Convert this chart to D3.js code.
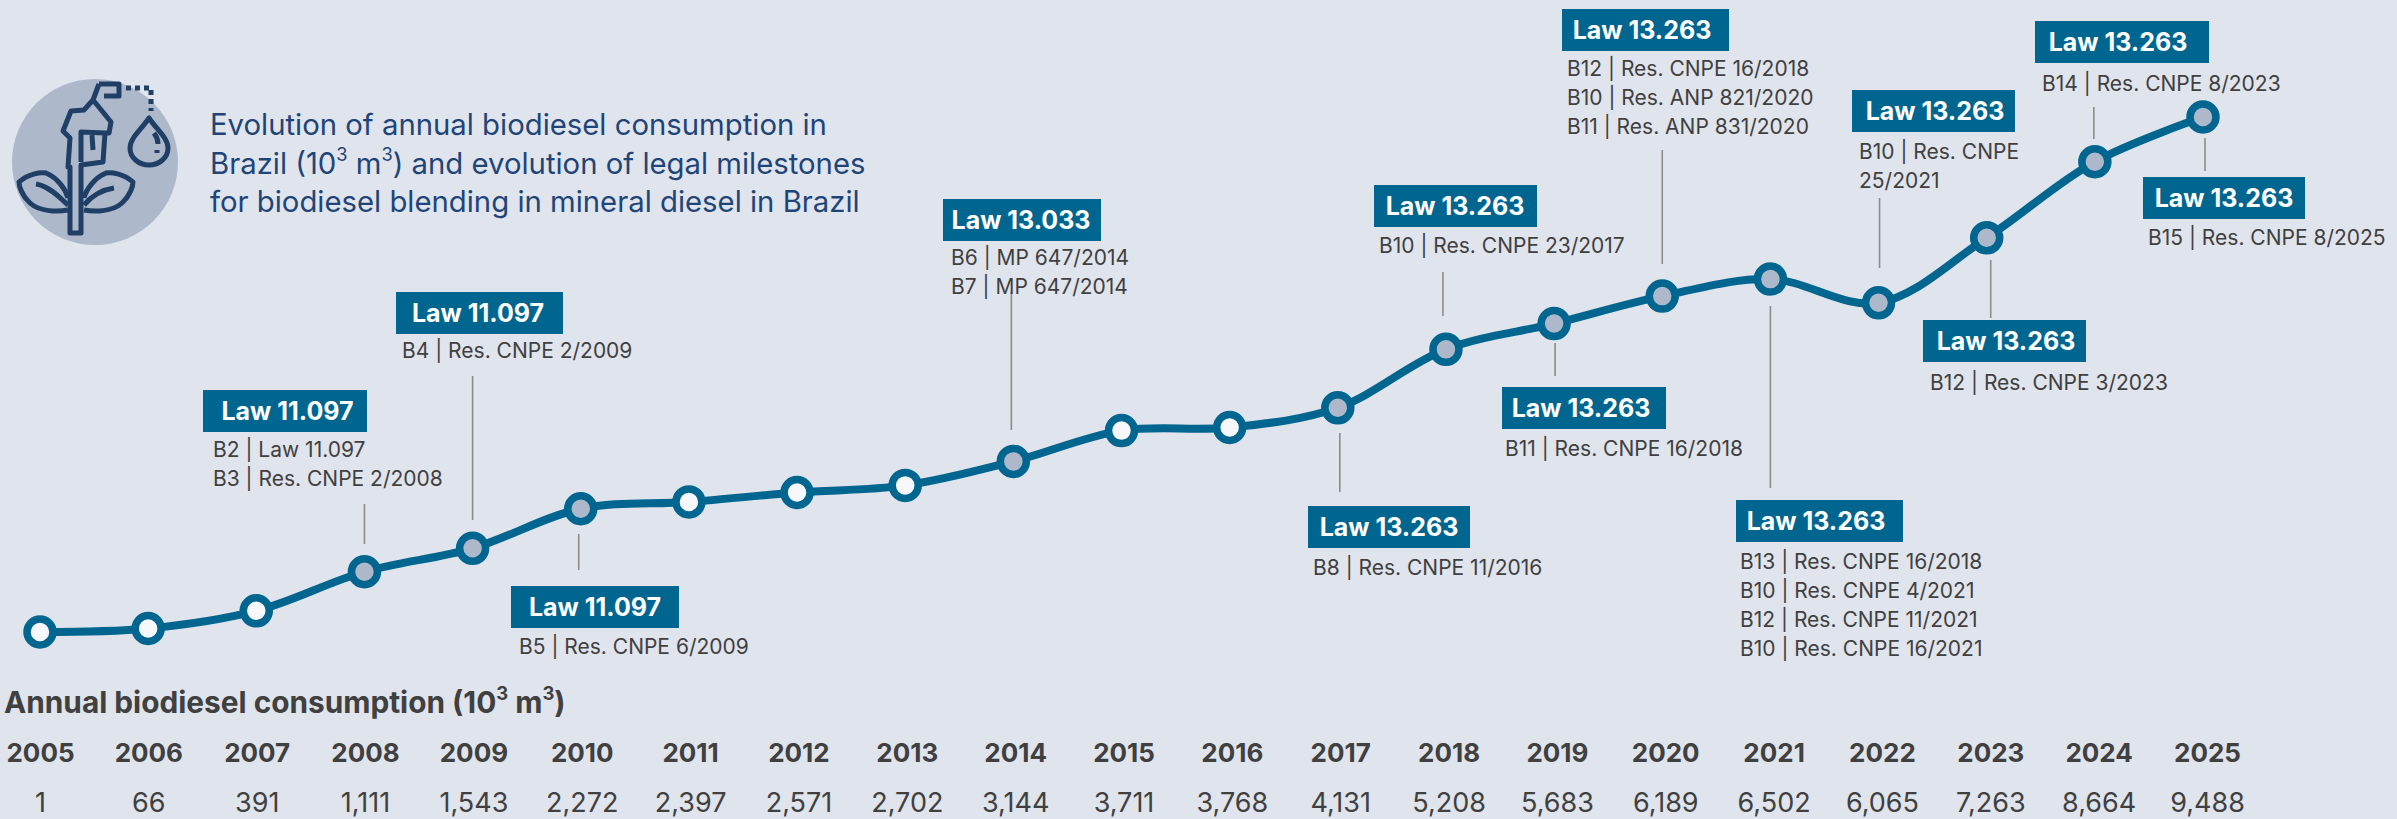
<!DOCTYPE html>
<html><head><meta charset="utf-8">
<script src="https://cdn.jsdelivr.net/npm/d3@7/dist/d3.min.js"></script>
<style>
html,body{margin:0;padding:0;background:#e0e4ec;overflow:hidden}
svg{display:block}
text{font-family:Inter,Roboto,sans-serif}
</style></head><body><div id="c"></div>
<script>
// ---- data ----
const years=[2005,2006,2007,2008,2009,2010,2011,2012,2013,2014,2015,2016,2017,2018,2019,2020,2021,2022,2023,2024,2025];
const consumption=[1,66,391,1111,1543,2272,2397,2571,2702,3144,3711,3768,4131,5208,5683,6189,6502,6065,7263,8664,9488];
const milestoneYears=[2008,2009,2010,2014,2017,2018,2019,2020,2021,2022,2023,2024,2025];
const milestoneLaws=["Law 11.097","Law 11.097","Law 11.097","Law 13.033","Law 13.263","Law 13.263","Law 13.263","Law 13.263","Law 13.263","Law 13.263","Law 13.263","Law 13.263","Law 13.263"];
const milestoneNotes=[
 ["B2 | Law 11.097","B3 | Res. CNPE 2/2008"],
 ["B4 | Res. CNPE 2/2009"],
 ["B5 | Res. CNPE 6/2009"],
 ["B6 | MP 647/2014","B7 | MP 647/2014"],
 ["B8 | Res. CNPE 11/2016"],
 ["B10 | Res. CNPE 23/2017"],
 ["B11 | Res. CNPE 16/2018"],
 ["B12 | Res. CNPE 16/2018","B10 | Res. ANP 821/2020","B11 | Res. ANP 831/2020"],
 ["B13 | Res. CNPE 16/2018","B10 | Res. CNPE 4/2021","B12 | Res. CNPE 11/2021","B10 | Res. CNPE 16/2021"],
 ["B10 | Res. CNPE","25/2021"],
 ["B12 | Res. CNPE 3/2023"],
 ["B14 | Res. CNPE 8/2023"],
 ["B15 | Res. CNPE 8/2025"]
];
const titleLines=["Evolution of annual biodiesel consumption in",["Brazil (10","3"," m","3",") and evolution of legal milestones"],"for biodiesel blending in mineral diesel in Brazil"];
const tableHeader=["Annual biodiesel consumption (10","3"," m","3",")"];
const whitePointYears=[2005,2006,2007,2011,2012,2013,2015,2016];

// ---- layout (annotation placement, separate from the data) ----
const W=2397,H=819;
const place={ // box x0,x1,y0 ; label centre offset ; text x, first line y ; leader dx,y1,y2
 2008:{b:[203,367,390],c:2.5,t:213,ty:449,lx:0,l:[504,544]},
 2009:{b:[396,563,292],c:-1.5,t:402,ty:350,lx:0,l:[376,520]},
 2010:{b:[511,679,586],c:0,t:519,ty:646,lx:-2,l:[534,570]},
 2014:{b:[943,1101,199],c:-1,t:951,ty:257,lx:-2,l:[292,430]},
 2017:{b:[1308,1470,506],c:0,t:1313,ty:567,lx:2,l:[433,492]},
 2018:{b:[1374,1537,185],c:-0.5,t:1379,ty:245,lx:-3,l:[272,316]},
 2019:{b:[1502,1666,387],c:-3,t:1505,ty:448,lx:1,l:[343,376]},
 2020:{b:[1562,1729,9],c:-3.5,t:1567,ty:68,lx:0,l:[150,264]},
 2021:{b:[1736,1903,500],c:-3.5,t:1740,ty:561,lx:0,l:[306,488]},
 2022:{b:[1852,2015,90],c:1.5,t:1859,ty:151,lx:1,l:[198,268]},
 2023:{b:[1923,2086,320],c:1.5,t:1930,ty:382,lx:4,l:[260,318]},
 2024:{b:[2035,2209,21],c:-4,t:2042,ty:83,lx:-1,l:[107,139]},
 2025:{b:[2143,2305,177],c:0,t:2148,ty:237,lx:2,l:[138,171]}
};
const BG="#e0e4ec",TEAL="#006690",GREY="#adb9ca",TXT="#404040",NAVY="#1f4578",LEAD="#8c8c8c";

const svg=d3.select("#c").append("svg").attr("width",W).attr("height",H);
svg.append("rect").attr("width",W).attr("height",H).attr("fill",BG);

const x=d3.scaleLinear().domain([2005,2025]).range([40,2203]);
const y=d3.scaleLinear().domain([1,9488]).range([632,117]);
const xTable=d3.scaleLinear().domain([2005,2025]).range([40.5,2207.5]);
const series=years.map((yr,i)=>({yr,v:consumption[i]}));

// icon
const ic=svg.append("g").attr("fill","none").attr("stroke","#1f3f66").attr("stroke-width",5).attr("stroke-linejoin","round");
svg.insert("ellipse","g").attr("cx",95).attr("cy",162).attr("rx",83).attr("ry",83).attr("fill",GREY);
ic.append("path").attr("d","M99,84 L119,84 L119,96 L104,96 M99,84 L93,100 L84,110 L71,111 L63,131 L70,138 L68,167 L70,167 L70,233 L81,233 L81,165 L103,162 L105,133 L81,132 L81,162 M93,100 L98,106 L111,122 L109,133 L105,133");
ic.append("path").attr("d","M92,135 L93,150");
ic.append("path").attr("d","M68,205 C62,200 50,186 36,184 M68,210 C58,212 40,212 30,203 C22,196 19,186 19,182 C28,174 40,172 46,173 C58,178 66,190 68,198");
ic.append("path").attr("d","M84,205 C90,198 100,190 114,188 M84,210 C94,212 112,212 122,203 C130,196 133,186 133,182 C124,174 112,172 106,173 C94,178 86,190 84,198");
ic.append("path").attr("d","M149,118 C141,130 130,138 130,148 C130,158 139,165 149,165 C159,165 168,158 168,148 C168,138 157,130 149,118 Z");
ic.append("path").attr("d","M154,133 C157,137 158,140 158,144 M157,150 L157,153");
ic.append("path").attr("d","M126,88 L151,88 L151,111").attr("stroke-dasharray","5 4").attr("stroke-width",5);

// title
const sup=(t,parts,size)=>{parts.forEach((p,i)=>{
  const s=i%2===1;
  t.append("tspan").attr("font-size",s?size*0.62:size).attr("dy",s?-size*0.42:(i>0?size*0.42:null)).text(p);
});};
const tt=svg.append("g").attr("fill",NAVY);
const titleY=[124,163,201];
titleLines.forEach((l,i)=>{
  const t=tt.append("text").attr("x",210).attr("y",titleY[i]+10.5);
  t.attr("font-size",29.3);
  if(Array.isArray(l)) sup(t,l,29.3); else t.text(l);
});

// leaders
milestoneYears.forEach(yr=>{
  const p=place[yr];
  svg.append("line").attr("x1",x(yr)+p.lx).attr("x2",x(yr)+p.lx).attr("y1",p.l[0]).attr("y2",p.l[1]).attr("stroke",LEAD).attr("stroke-width",1.6);
});

// line
const line=d3.line().x(d=>x(d.yr)).y(d=>y(d.v)).curve(d3.curveCatmullRom.alpha(0.5));
svg.append("path").datum(series).attr("d",line).attr("fill","none").attr("stroke",TEAL).attr("stroke-width",8);
svg.selectAll("circle.pt").data(series).join("circle").attr("class","pt")
  .attr("cx",d=>x(d.yr)).attr("cy",d=>y(d.v)).attr("r",13).attr("stroke",TEAL).attr("stroke-width",7.5)
  .attr("fill",d=>whitePointYears.includes(d.yr)?"#f6f8fb":GREY);

// annotations
milestoneYears.forEach((yr,i)=>{
  const p=place[yr];
  svg.append("rect").attr("x",p.b[0]).attr("y",p.b[2]).attr("width",p.b[1]-p.b[0]).attr("height",42).attr("fill",TEAL);
  svg.append("text").attr("x",(p.b[0]+p.b[1])/2+p.c).attr("y",p.b[2]+21).attr("dy","0.36em").attr("text-anchor","middle")
    .attr("fill","#fff").attr("font-size",25).attr("font-weight",700).text(milestoneLaws[i]);
  milestoneNotes[i].forEach((n,j)=>{
    svg.append("text").attr("x",p.t).attr("y",p.ty+j*29.3).attr("dy","0.36em").attr("fill",TXT).attr("font-size",21).text(n);
  });
});

// table
const hd=svg.append("text").attr("x",4).attr("y",712.7).attr("fill",TXT).attr("font-weight",700).attr("font-size",29.8);
sup(hd,tableHeader,29.8);
svg.selectAll("text.yr").data(series).join("text").attr("class","yr").attr("x",d=>xTable(d.yr)).attr("y",753).attr("dy","0.36em")
  .attr("text-anchor","middle").attr("font-size",26).attr("font-weight",700).attr("fill",TXT).text(d=>d.yr);
svg.selectAll("text.val").data(series).join("text").attr("class","val").attr("x",d=>xTable(d.yr)).attr("y",802.5).attr("dy","0.36em")
  .attr("text-anchor","middle").attr("font-size",27).attr("fill",TXT).text(d=>d3.format(",")(d.v));
</script></body></html>
